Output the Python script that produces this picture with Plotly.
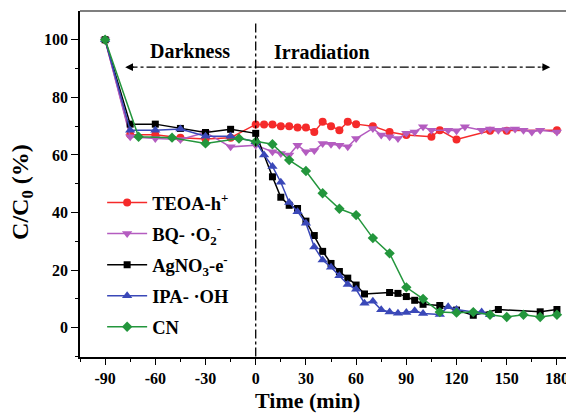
import plotly.graph_objects as go

# ---- data ----
teoa_t = [-90, -75, -60, -45, -30, -15, 0, 5, 10, 15, 20, 25, 30, 35, 40, 45, 50, 55, 60, 70, 80, 90, 105, 110, 120, 140, 150, 180]
teoa_c = [100, 67, 67, 66, 65.5, 66, 70.6, 70.6, 70.6, 70, 70, 69.5, 69.5, 68, 71.5, 70, 68.6, 71.5, 70.7, 70, 68, 66.9, 66.3, 68.6, 65.4, 68.4, 68.4, 68.6]

bq_t = [-90, -75, -60, -45, -30, -15, 0, 10, 15, 20, 25, 30, 35, 40, 45, 50, 55, 60, 70, 75, 80, 85, 90, 95, 100, 105, 115, 120, 125, 135, 140, 145, 150, 155, 160, 165, 170, 180]
bq_c = [100, 66.3, 65.7, 65.4, 67.8, 62.8, 63.4, 61.1, 60.5, 60, 63.4, 61.1, 61.5, 64, 63.7, 63.4, 62.8, 65.7, 69.2, 66.9, 66.3, 65.7, 67.5, 68, 69.8, 68.6, 68.6, 68.4, 69.8, 68.6, 69, 68.6, 68.8, 69, 68.6, 68, 68.6, 68]

ag_t = [-90, -75, -60, -45, -30, -15, 0, 10, 15, 20, 25, 30, 35, 40, 45, 50, 55, 60, 65, 80, 85, 90, 95, 100, 110, 120, 130, 145, 170, 180]
ag_c = [100, 70.7, 70.7, 69.2, 67.8, 68.9, 67.5, 52.4, 45.3, 42.5, 41.4, 37, 32, 26.5, 22.3, 19.5, 17.2, 14.8, 11.7, 12.2, 11.9, 10.8, 9.5, 8.1, 7.7, 6.1, 4.3, 6.3, 5.5, 6.3]

ipa_t = [-90, -75, -60, -45, -30, -15, 0, 5, 10, 15, 20, 25, 30, 35, 40, 45, 50, 55, 60, 65, 70, 75, 80, 85, 90, 95, 100, 110, 115, 120, 130, 135, 140]
ipa_c = [100, 68.6, 68.6, 69, 66.5, 66.5, 64.6, 60, 56, 50.5, 43.5, 40.3, 36.3, 28, 23.5, 21, 18, 15, 13.3, 8.5, 9.2, 6.2, 5.4, 5.0, 5.3, 5.9, 4.9, 4.6, 7.3, 6.3, 5.4, 5.4, 4.5]

cn_t = [-90, -70, -50, -30, -10, 0, 10, 20, 30, 40, 50, 60, 70, 80, 90, 100, 110, 120, 130, 140, 150, 160, 170, 180]
cn_c = [100, 66.3, 66, 64, 65.7, 64.6, 63.7, 58.2, 54.4, 46.7, 41.3, 39.1, 31.1, 25.8, 14, 10, 5.4, 5.2, 5.4, 4.5, 3.7, 4.5, 3.7, 4.5]

names = ["TEOA-h<sup>+</sup>", "BQ- ·O<sub>2</sub><sup>-</sup>", "AgNO<sub>3</sub>-e<sup>-</sup>", "IPA- ·OH", "CN"]
colors = ["#F52A2A", "#B45CC0", "#000000", "#3A48B8", "#23963C"]
symbols = ["circle", "triangle-down", "square", "triangle-up", "diamond"]
sizes = [8, 9, 7, 9, 8]

x_ticks = [-90, -60, -30, 0, 30, 60, 90, 120, 150, 180]
y_ticks = [0, 20, 40, 60, 80, 100]

FONT = "Liberation Serif"

fig = go.Figure()
series = [(teoa_t, teoa_c), (bq_t, bq_c), (ag_t, ag_c), (ipa_t, ipa_c), (cn_t, cn_c)]
for i, ((t, c), n, col, sym, sz) in enumerate(zip(series, names, colors, symbols, sizes)):
    fig.add_trace(go.Scatter(
        x=t, y=c, name=n, mode="lines+markers", legendgroup=f"g{i}",
        line=dict(color=col, width=1.5),
        marker=dict(symbol=sym, size=sz, color=col),
    ))

# vertical dash-dot line at t=0
fig.add_shape(type="line", x0=0, x1=0, y0=-10, y1=106, xref="x", yref="y",
              line=dict(color="black", width=1.3, dash="dashdot"))
# horizontal arrows
arrow_y = 90.5
fig.add_shape(type="line", x0=-76, x1=0, y0=arrow_y, y1=arrow_y, xref="x", yref="y",
              line=dict(color="black", width=1.3, dash="dashdot"))
fig.add_shape(type="line", x0=0, x1=174, y0=arrow_y, y1=arrow_y, xref="x", yref="y",
              line=dict(color="black", width=1.3, dash="dashdot"))
fig.add_annotation(x=-78, y=arrow_y, ax=-72, ay=arrow_y, axref="x", ayref="y",
                   xref="x", yref="y", text="", showarrow=True, arrowhead=2,
                   arrowsize=1.2, arrowwidth=1.3, arrowcolor="black")
fig.add_annotation(x=176, y=arrow_y, ax=170, ay=arrow_y, axref="x", ayref="y",
                   xref="x", yref="y", text="", showarrow=True, arrowhead=2,
                   arrowsize=1.2, arrowwidth=1.3, arrowcolor="black")
fig.add_annotation(x=-39, y=96, xref="x", yref="y", text="Darkness", showarrow=False,
                   font=dict(family=FONT, size=20, color="black", weight="bold"))
fig.add_annotation(x=39.5, y=95.8, xref="x", yref="y", text="Irradiation", showarrow=False,
                   font=dict(family=FONT, size=20, color="black", weight="bold"))

# axis titles
fig.add_annotation(x=0.4625, y=-0.125, xref="paper", yref="paper", text="Time (min)",
                   showarrow=False, xanchor="center", yanchor="middle",
                   font=dict(family=FONT, size=22, color="black", weight="bold"))
fig.add_annotation(x=-0.118, y=0.477, xref="paper", yref="paper", text="C/C<sub>0</sub> (%)",
                   showarrow=False, textangle=-90, xanchor="center", yanchor="middle",
                   font=dict(family=FONT, size=24, color="black", weight="bold"))

# top / right frame
fig.add_shape(type="line", x0=0, x1=1, y0=1, y1=1, xref="paper", yref="paper",
              line=dict(color="#555555", width=1.5))
fig.add_shape(type="line", x0=1, x1=1, y0=0, y1=1, xref="paper", yref="paper",
              line=dict(color="#BBBBBB", width=1))

fig.update_layout(
    width=566, height=408,
    margin=dict(l=72, r=2, t=3, b=59),
    paper_bgcolor="white", plot_bgcolor="white",
    font=dict(family=FONT, color="black"),
    showlegend=True,
    legend=dict(x=0.045, y=0.50, xanchor="left", yanchor="top",
                bgcolor="rgba(0,0,0,0)",
                font=dict(family=FONT, size=18.5, color="black", weight="bold"),
                itemwidth=40, tracegroupgap=4),
    xaxis=dict(range=[-105, 189], tickvals=x_ticks, ticktext=[str(v) for v in x_ticks],
               ticks="outside", ticklen=6, tickwidth=1.3, tickcolor="black",
               showline=True, linecolor="black", linewidth=1.5, showgrid=False, zeroline=False,
               tickfont=dict(family=FONT, size=16, color="black", weight="bold"),
               minor=dict(tickvals=[-105, -75, -45, -15, 15, 45, 75, 105, 135, 165],
                          ticks="outside", ticklen=3, tickwidth=1.2, tickcolor="black")),
    yaxis=dict(range=[-10.2, 110], tickvals=y_ticks, ticktext=[str(v) for v in y_ticks],
               ticks="outside", ticklen=7, tickwidth=1.3, tickcolor="black",
               showline=True, linecolor="black", linewidth=1.5, showgrid=False, zeroline=False,
               tickfont=dict(family=FONT, size=16, color="black", weight="bold"),
               minor=dict(tickvals=[-10, 10, 30, 50, 70, 90],
                          ticks="outside", ticklen=3, tickwidth=1.2, tickcolor="black")),
)

fig.write_html("out.html")
